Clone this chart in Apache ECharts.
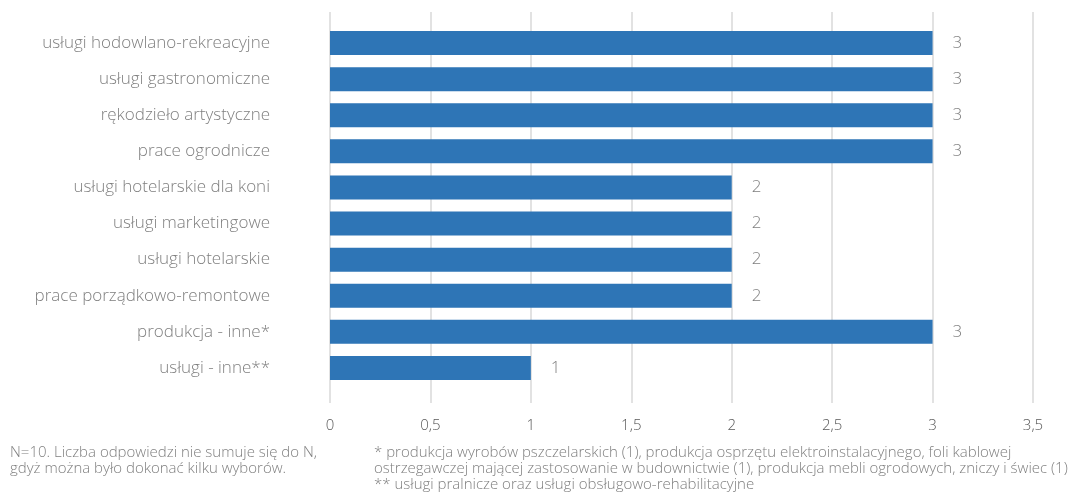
<!DOCTYPE html>
<html><head><meta charset="utf-8">
<script src="https://cdn.jsdelivr.net/npm/echarts@6/dist/echarts.min.js"></script>
<style>html,body{margin:0;padding:0;background:#fff}#c{width:1068px;height:497px}</style>
</head><body><div id="c"></div>
<script>
const categories = ['usługi hodowlano-rekreacyjne','usługi gastronomiczne','rękodzieło artystyczne','prace ogrodnicze','usługi hotelarskie dla koni','usługi marketingowe','usługi hotelarskie','prace porządkowo-remontowe','produkcja - inne*','usługi - inne**'];
const values = [3,3,3,3,2,2,2,2,3,1];
const xTicks = {min:0, max:3.5, interval:0.5};
const noteLeft = 'N=10. Liczba odpowiedzi nie sumuje się do N,\ngdyż można było dokonać kilku wyborów.';
const noteRight = '* produkcja wyrobów pszczelarskich (1), produkcja osprzętu elektroinstalacyjnego, foli kablowej\nostrzegawczej mającej zastosowanie w budownictwie (1), produkcja mebli ogrodowych, zniczy i świec (1)\n** usługi pralnicze oraz usługi obsługowo-rehabilitacyjne';

const font = '"Open Sans", sans-serif';
const chart = echarts.init(document.getElementById('c'));
chart.setOption({
  animation:false,
  grid:[
    {left:330, right:35, top:25, bottom:111, containLabel:false},
    {left:330, right:35, top:12, bottom:94, containLabel:false}
  ],
  xAxis:[
    {gridIndex:0, type:'value', min:xTicks.min, max:xTicks.max, interval:xTicks.interval,
     axisLine:{show:false}, axisTick:{show:false}, splitLine:{show:false}, axisLabel:{show:false}},
    {gridIndex:1, type:'value', min:xTicks.min, max:xTicks.max, interval:xTicks.interval,
     axisLine:{show:false}, axisTick:{show:false},
     splitLine:{show:true, lineStyle:{color:'#d9d9d9', width:1.5}},
     axisLabel:{color:'#595959', fontFamily:font, fontSize:15, fontWeight:300, margin:15,
       formatter:v=>String(v).replace('.',',')}}
  ],
  yAxis:[
    {gridIndex:0, type:'category', data:categories, inverse:true,
     axisLine:{show:false}, axisTick:{show:false},
     axisLabel:{color:'#7f7f7f', fontFamily:font, fontSize:17, fontWeight:300, margin:60}},
    {gridIndex:1, type:'value', show:false}
  ],
  series:[{
    type:'bar', xAxisIndex:0, yAxisIndex:0, data:values, barWidth:24,
    itemStyle:{color:'#2E75B6'},
    label:{show:true, position:'right', distance:20, color:'#7f7f7f', fontFamily:font, fontSize:17, fontWeight:300}
  }],
  graphic:[
    {type:'text', left:10, top:445, style:{text:noteLeft, fill:'#7f7f7f', font:'300 15px '+font, lineHeight:16}},
    {type:'text', left:374, top:445, style:{text:noteRight, fill:'#7f7f7f', font:'300 15px '+font, lineHeight:16}}
  ]
});
</script></body></html>
